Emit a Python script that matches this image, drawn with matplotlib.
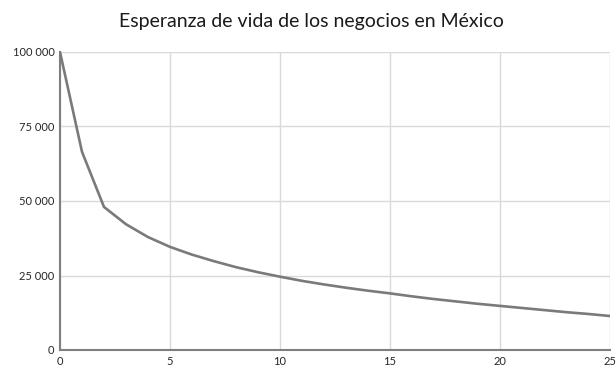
import matplotlib
matplotlib.use("Agg")
import matplotlib.pyplot as plt
from matplotlib.ticker import FuncFormatter

plt.rcParams['font.family'] = ['Lato', 'DejaVu Sans']

# years since opening and surviving businesses (out of 100 000)
years = list(range(0, 26))
survivors = [100000, 66500, 48000, 42200, 37900, 34600, 32000, 29800, 27800, 26100,
             24600, 23200, 22000, 20900, 19900, 19000, 18000, 17100, 16300, 15500,
             14800, 14100, 13400, 12700, 12100, 11400]
x_ticks = [0, 5, 10, 15, 20, 25]
y_ticks = [0, 25000, 50000, 75000, 100000]
title = "Esperanza de vida de los negocios en México"

fig = plt.figure(figsize=(6.16, 3.66), dpi=100)
ax = fig.add_axes([60 / 616, 16 / 366, 550 / 616, 298 / 366])

ax.plot(years, survivors, color='#7a7a7a', lw=1.9, solid_joinstyle='round', zorder=3)

ax.set_xlim(0, 25)
ax.set_ylim(0, 100000)
ax.set_xticks(x_ticks)
ax.set_yticks(y_ticks)
ax.yaxis.set_major_formatter(FuncFormatter(lambda v, p: f"{int(v):,}".replace(",", " ")))
ax.grid(True, color='#d9d9d9', lw=1)
ax.set_axisbelow(True)

for s in ['top', 'right']:
    ax.spines[s].set_visible(False)
for s in ['left', 'bottom']:
    ax.spines[s].set_color('#7f7f7f')
    ax.spines[s].set_linewidth(1.5)
ax.tick_params(length=0, labelsize=8, colors='#262626', pad=4)

fig.text(311 / 616, 1 - 22 / 366, title, ha='center', va='center', fontsize=14, color='#1a1a1a')

fig.savefig("out.png", dpi=100)
